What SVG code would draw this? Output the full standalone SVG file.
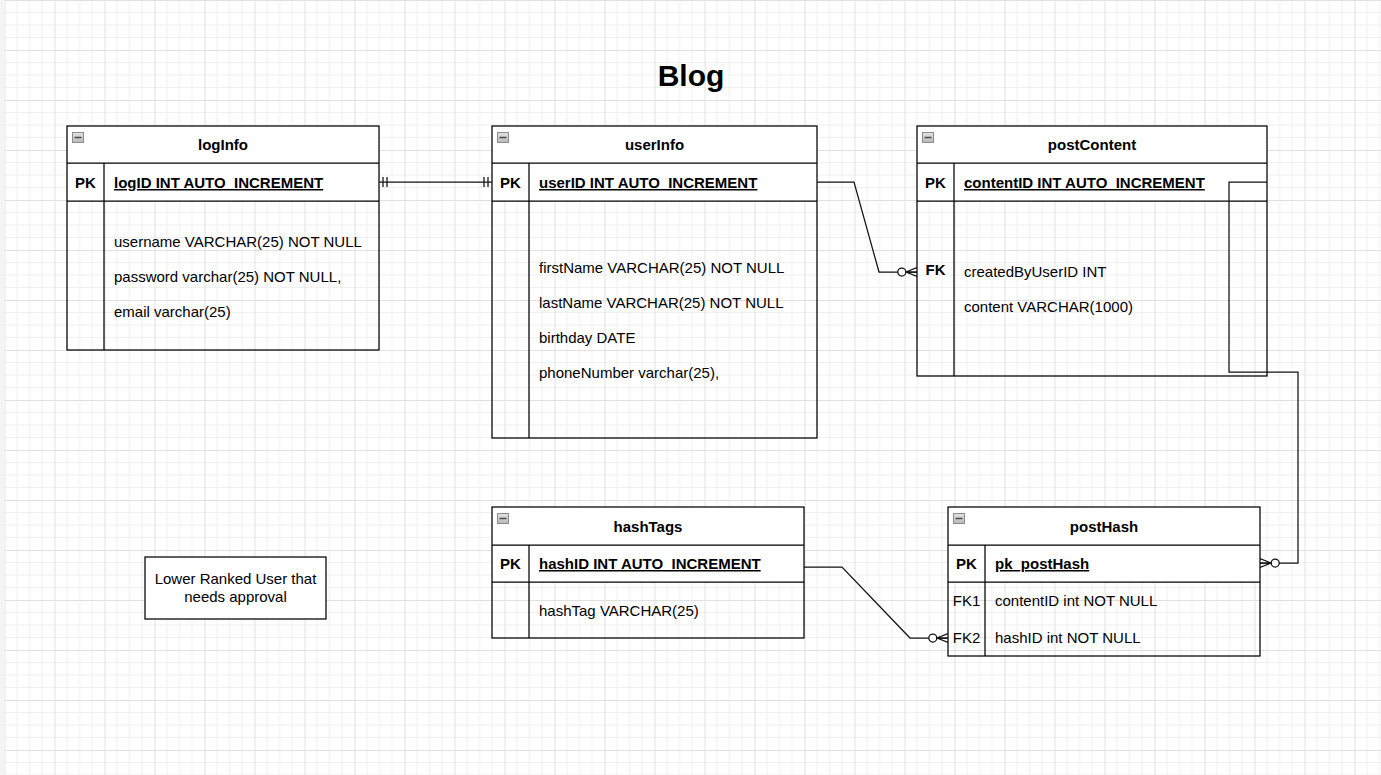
<svg xmlns="http://www.w3.org/2000/svg" width="1381" height="775" viewBox="0 0 1381 775">
<style>
.t{font-family:"Liberation Sans",Arial,Helvetica,sans-serif;font-size:15px;fill:#000}
.b{font-weight:bold}
.u{text-decoration:underline}
.c{text-anchor:middle}
.fill{fill:#fff;stroke:none}
.box{fill:none;stroke:#000;stroke-width:1.25}
.ln{stroke:#000;stroke-width:1.25}
.ico{fill:url(#icoGrad);stroke:#8c8c8c;stroke-width:1}
.icm{stroke:#4a4a4a;stroke-width:1.5}
.edge{fill:none;stroke:#111;stroke-width:1.25}
</style>
<defs>
<pattern id="grid" patternUnits="userSpaceOnUse" x="4.5" y="0" width="50" height="50">
<rect x="12" y="0" width="1" height="50" fill="#f0f0f0"/>
<rect x="24.5" y="0" width="1" height="50" fill="#f0f0f0"/>
<rect x="37" y="0" width="1" height="50" fill="#f0f0f0"/>
<rect x="0" y="12" width="50" height="1" fill="#f0f0f0"/>
<rect x="0" y="24.5" width="50" height="1" fill="#f0f0f0"/>
<rect x="0" y="37" width="50" height="1" fill="#f0f0f0"/>
<rect x="0" y="0" width="1" height="50" fill="#e0e0e0"/>
<rect x="0" y="0" width="50" height="1" fill="#e0e0e0"/>
</pattern>
<linearGradient id="icoGrad" x1="0" y1="0" x2="0" y2="1">
<stop offset="0" stop-color="#e4e4e4"/>
<stop offset="1" stop-color="#b8b8b8"/>
</linearGradient>
<marker id="mandOne" markerUnits="userSpaceOnUse" viewBox="0 0 12 12" markerWidth="12" markerHeight="12" refX="12" refY="6" orient="auto-start-reverse">
<path d="M4,1V11M8,1V11" fill="none" stroke="#111" stroke-width="1.25"/>
</marker>
<marker id="zeroMany" markerUnits="userSpaceOnUse" viewBox="0 0 20 12" markerWidth="20" markerHeight="12" refX="20" refY="6" orient="auto">
<path d="M20,1.5L9,6L20,10.5M9,6H20" fill="none" stroke="#111" stroke-width="1.25"/>
<circle cx="4.8" cy="6" r="4" fill="#fff" stroke="#111" stroke-width="1.25"/>
</marker>
</defs>

<rect x="0" y="0" width="1381" height="775" fill="#fff"/>
<rect x="0" y="0" width="4.5" height="775" fill="#f4f4f4"/>
<rect x="4.5" y="0" width="1376.5" height="775" fill="url(#grid)"/>

<g id="title">
<text class="t b c" x="691" y="86" style="font-size:30px">Blog</text>
</g>

<g id="logInfo">
<rect class="fill" x="67" y="126" width="312" height="75"/>
<rect class="box" x="67" y="126" width="312" height="224"/>
<line class="ln" x1="67" y1="163" x2="379" y2="163"/>
<line class="ln" x1="67" y1="201" x2="379" y2="201"/>
<line class="ln" x1="104" y1="163" x2="104" y2="350"/>
<rect class="ico" x="72.5" y="132.5" width="11" height="10"/>
<line class="icm" x1="74.5" y1="137.5" x2="81.5" y2="137.5"/>
<text class="t b c" x="223" y="150">logInfo</text>
<text class="t b c" x="85.5" y="188">PK</text>
<text class="t b u" x="114" y="188">logID INT AUTO_INCREMENT</text>
<text class="t" x="114" y="247">username VARCHAR(25) NOT NULL</text>
<text class="t" x="114" y="282">password varchar(25) NOT NULL,</text>
<text class="t" x="114" y="317">email varchar(25)</text>
</g>

<g id="userInfo">
<rect class="fill" x="492" y="126" width="325" height="75"/>
<rect class="box" x="492" y="126" width="325" height="312"/>
<line class="ln" x1="492" y1="163" x2="817" y2="163"/>
<line class="ln" x1="492" y1="201" x2="817" y2="201"/>
<line class="ln" x1="529" y1="163" x2="529" y2="438"/>
<rect class="ico" x="497.5" y="132.5" width="11" height="10"/>
<line class="icm" x1="499.5" y1="137.5" x2="506.5" y2="137.5"/>
<text class="t b c" x="654.5" y="150">userInfo</text>
<text class="t b c" x="510.5" y="188">PK</text>
<text class="t b u" x="539" y="188">userID INT AUTO_INCREMENT</text>
<text class="t" x="539" y="272.5">firstName VARCHAR(25) NOT NULL</text>
<text class="t" x="539" y="307.5">lastName VARCHAR(25) NOT NULL</text>
<text class="t" x="539" y="342.5">birthday DATE</text>
<text class="t" x="539" y="377.5">phoneNumber varchar(25),</text>
</g>

<g id="postContent">
<rect class="fill" x="917" y="126" width="350" height="75"/>
<rect class="box" x="917" y="126" width="350" height="250"/>
<line class="ln" x1="917" y1="163" x2="1267" y2="163"/>
<line class="ln" x1="917" y1="201" x2="1267" y2="201"/>
<line class="ln" x1="954" y1="163" x2="954" y2="376"/>
<rect class="ico" x="922.5" y="132.5" width="11" height="10"/>
<line class="icm" x1="924.5" y1="137.5" x2="931.5" y2="137.5"/>
<text class="t b c" x="1092" y="150">postContent</text>
<text class="t b c" x="935.5" y="188">PK</text>
<text class="t b u" x="964" y="188">contentID INT AUTO_INCREMENT</text>
<text class="t b c" x="935.5" y="275">FK</text>
<text class="t" x="964" y="277">createdByUserID INT</text>
<text class="t" x="964" y="312">content VARCHAR(1000)</text>
</g>

<g id="hashTags">
<rect class="fill" x="492" y="507" width="312" height="75"/>
<rect class="box" x="492" y="507" width="312" height="131"/>
<line class="ln" x1="492" y1="545" x2="804" y2="545"/>
<line class="ln" x1="492" y1="582" x2="804" y2="582"/>
<line class="ln" x1="529" y1="545" x2="529" y2="638"/>
<rect class="ico" x="497.5" y="513.5" width="11" height="10"/>
<line class="icm" x1="499.5" y1="518.5" x2="506.5" y2="518.5"/>
<text class="t b c" x="648" y="531.5">hashTags</text>
<text class="t b c" x="510.5" y="569">PK</text>
<text class="t b u" x="539" y="569">hashID INT AUTO_INCREMENT</text>
<text class="t" x="539" y="616">hashTag VARCHAR(25)</text>
</g>

<g id="postHash">
<rect class="fill" x="948" y="507" width="312" height="75"/>
<rect class="box" x="948" y="507" width="312" height="149"/>
<line class="ln" x1="948" y1="545" x2="1260" y2="545"/>
<line class="ln" x1="948" y1="582" x2="1260" y2="582"/>
<line class="ln" x1="985" y1="545" x2="985" y2="656"/>
<rect class="ico" x="953.5" y="513.5" width="11" height="10"/>
<line class="icm" x1="955.5" y1="518.5" x2="962.5" y2="518.5"/>
<text class="t b c" x="1104" y="531.5">postHash</text>
<text class="t b c" x="966.5" y="569">PK</text>
<text class="t b u" x="995" y="569">pk_postHash</text>
<text class="t c" x="966.5" y="606">FK1</text>
<text class="t" x="995" y="606">contentID int NOT NULL</text>
<text class="t c" x="966.5" y="643">FK2</text>
<text class="t" x="995" y="643">hashID int NOT NULL</text>
</g>

<g id="note">
<rect x="145" y="557" width="181" height="62" fill="#fff" stroke="#000" stroke-width="1.25"/>
<text class="t c" x="235.5" y="583.5">Lower Ranked User that</text>
<text class="t c" x="235.5" y="602">needs approval</text>
</g>

<g id="connectors">
<path class="edge" d="M379,182H492" marker-start="url(#mandOne)" marker-end="url(#mandOne)"/>
<path class="edge" d="M817,182H854L879,272H917" marker-end="url(#zeroMany)"/>
<path class="edge" d="M1267,182H1229V372H1298V563H1260" marker-end="url(#zeroMany)"/>
<path class="edge" d="M804,567H842L910,638H948" marker-end="url(#zeroMany)"/>
</g>
</svg>
